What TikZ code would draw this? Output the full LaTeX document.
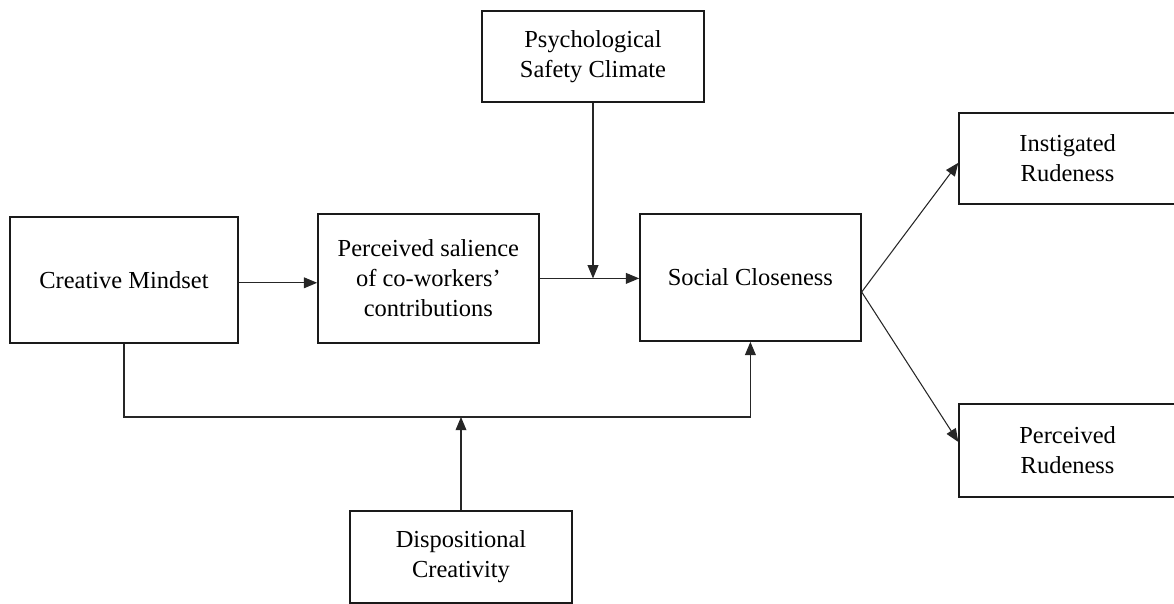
\documentclass[tikz,border=0pt]{standalone}
\usepackage{fontspec}
\setmainfont{Liberation Serif}
\usepackage{tikz}
\usetikzlibrary{arrows.meta, positioning, calc}
\definecolor{boxline}{HTML}{1A1A1A}
\definecolor{linkline}{HTML}{262626}
\tikzset{
  varbox/.style={draw=boxline, line width=1.1pt, align=center, inner sep=4pt, font=\fontsize{17.4}{21.5}\selectfont},
  link/.style={draw=linkline, line width=0.75pt, -{Triangle[length=0.33cm, width=0.27cm]}}
}

\begin{document}
\begin{tikzpicture}
\useasboundingbox (0,0) rectangle (29.35,15.1);
% variables
\node[varbox, minimum width=5.70cm, minimum height=3.15cm] (cm) at (3.10,8.10) {Creative Mindset};
\node[varbox, minimum width=5.525cm, minimum height=3.225cm] (sal) at (10.71,8.14) {Perceived salience\\of co-workers’\\contributions};
\node[varbox, minimum width=5.525cm, minimum height=3.175cm] (sc) at (18.76,8.16) {Social Closeness};
\node[varbox, minimum width=5.55cm, minimum height=2.275cm] (psc) at (14.825,13.69) {Psychological\\Safety Climate};
\node[varbox, minimum width=5.425cm, minimum height=2.275cm] (ir) at (26.69,11.14) {Instigated\\Rudeness};
\node[varbox, minimum width=5.425cm, minimum height=2.325cm] (pr) at (26.69,3.84) {Perceived\\Rudeness};
\node[varbox, minimum width=5.55cm, minimum height=2.3cm] (dc) at (11.525,1.175) {Dispositional\\Creativity};

% paths
\draw[link] ([yshift=-0.07cm]cm.east) -- ([yshift=-0.07cm]cm.east -| sal.west);
\draw[link] (sal.east) -- (sal.east -| sc.west);
\draw[link] (psc.south) -- (psc.south |- sal.east);

% moderation by dispositional creativity
\coordinate (jn) at (dc.north |- 0,4.675);
\draw[link] (cm.south) |- (jn) -| (sc.south);
\draw[link] (dc.north) -- (jn);

% outcomes
\coordinate (fork) at ([yshift=-0.36cm]sc.east);
\draw[link] (fork) -- ([yshift=-0.11cm]ir.west);
\draw[link] (fork) -- ([yshift=0.21cm]pr.west);
\end{tikzpicture}
\end{document}
